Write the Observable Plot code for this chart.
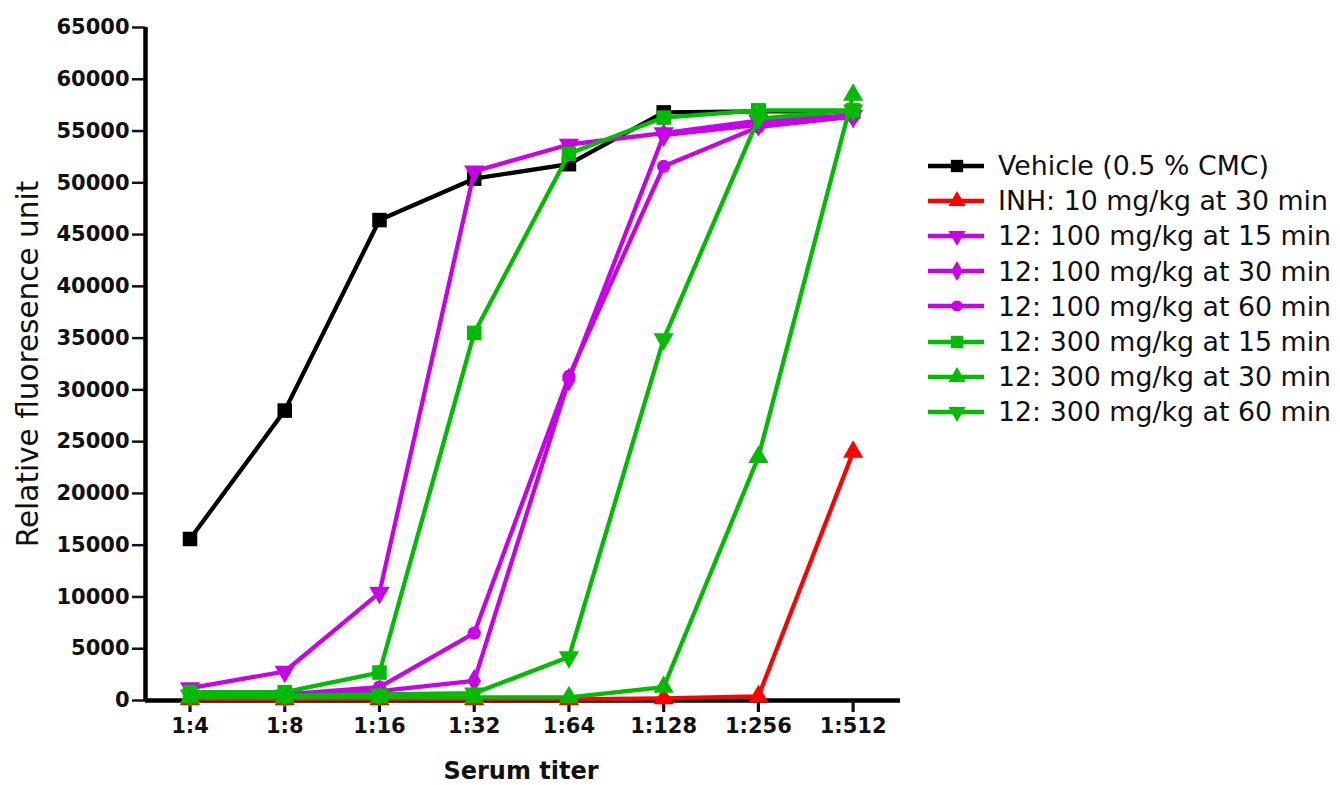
<!DOCTYPE html>
<html>
<head>
<meta charset="utf-8">
<script src="https://cdn.jsdelivr.net/npm/d3@7"></script>
<script src="https://cdn.jsdelivr.net/npm/@observablehq/plot@0.6"></script>
<style>
  body { margin: 0; background: #fff; }
  #wrap { position: relative; width: 1340px; height: 785px; overflow: hidden; font-family: "DejaVu Sans", sans-serif; color: #111; }
  #chart { position: absolute; left: 0; top: 0; }
  .ylab { position: absolute; left: 28px; top: 364px; transform: translate(-50%, -50%) rotate(-90deg); font-size: 29.5px; white-space: nowrap; }
  .xlab { position: absolute; left: 521px; top: 771px; transform: translate(-50%, -50%); font-size: 24px; font-weight: bold; white-space: nowrap; }
  #legend { position: absolute; left: 926px; top: 148px; }
  .row { height: 35.2px; display: flex; align-items: center; font-size: 26.8px; white-space: nowrap; }
  .row svg { margin-right: 12px; }
</style>
</head>
<body>
<div id="wrap">
  <div id="chart"></div>
  <div class="ylab">Relative fluoresence unit</div>
  <div class="xlab">Serum titer</div>
  <div id="legend"></div>
</div>
<script>
const titers = ["1:4", "1:8", "1:16", "1:32", "1:64", "1:128", "1:256", "1:512"];
const yTicks = [0, 5000, 10000, 15000, 20000, 25000, 30000, 35000, 40000, 45000, 50000, 55000, 60000, 65000];

const vehicle   = [15600, 28000, 46400, 50400, 51800, 56800, 56900, 56900];
const inh10_30  = [100, 100, 100, 100, 100, 200, 400, 24000];
const c100_15   = [1200, 2800, 10400, 51100, 53700, 54800, 56000, 56500];
const c100_30   = [500, 400, 900, 1900, 31000, 54600, 55600, 56400];
const c100_60   = [700, 600, 1300, 6500, 31300, 51600, 55400, 56400];
const c300_15   = [800, 800, 2700, 35500, 52800, 56300, 57000, 57000];
const c300_30   = [300, 300, 300, 300, 300, 1300, 23500, 58500];
const c300_60   = [500, 500, 600, 700, 4200, 34900, 56200, 57000];

const names = [
  "Vehicle (0.5 % CMC)",
  "INH: 10 mg/kg at 30 min",
  "12: 100 mg/kg at 15 min",
  "12: 100 mg/kg at 30 min",
  "12: 100 mg/kg at 60 min",
  "12: 300 mg/kg at 15 min",
  "12: 300 mg/kg at 30 min",
  "12: 300 mg/kg at 60 min"
];
const BLACK = "#000000", RED = "#ff0000", MAG = "#c800e8", GRN = "#00bb00";

const series = [
  {name: names[0], values: vehicle,  color: BLACK, symbol: "square",   rotate: 0,   r: 8.2},
  {name: names[1], values: inh10_30, color: RED,   symbol: "triangle", rotate: 0,   r: 7.5},
  {name: names[2], values: c100_15,  color: MAG,   symbol: "triangle", rotate: 180, r: 7.5},
  {name: names[3], values: c100_30,  color: MAG,   symbol: "diamond",  rotate: 0,   r: 7.2},
  {name: names[4], values: c100_60,  color: MAG,   symbol: "circle",   rotate: 0,   r: 6.6},
  {name: names[5], values: c300_15,  color: GRN,   symbol: "square",   rotate: 0,   r: 8.2},
  {name: names[6], values: c300_30,  color: GRN,   symbol: "triangle", rotate: 0,   r: 7.5},
  {name: names[7], values: c300_60,  color: GRN,   symbol: "triangle", rotate: 180, r: 7.5}
];

const xDomain = [-0.47, titers.length - 0.5];
const yDomain = [yTicks[0], yTicks[yTicks.length - 1]];

const marks = [];
marks.push(Plot.ruleY([yDomain[0]], {stroke: "#000", strokeWidth: 4.5}));
marks.push(Plot.ruleX([xDomain[0]], {y1: yDomain[0], y2: yDomain[1], stroke: "#000", strokeWidth: 4.5}));
marks.push(Plot.axisY({ticks: yTicks, tickFormat: d => String(d), tickSize: 13, tickPadding: 3,
  fontSize: 21, fontWeight: "bold", strokeWidth: 2.5, label: null, fill: "#111"}));
marks.push(Plot.axisX({ticks: d3.range(titers.length), tickFormat: i => titers[i], tickSize: 12, tickPadding: 6,
  fontSize: 21, fontWeight: "bold", strokeWidth: 3.2, label: null, fill: "#111"}));

for (const s of series) {
  const rows = s.values.map((v, i) => ({i, v}));
  marks.push(Plot.line(rows, {x: "i", y: "v", stroke: s.color, strokeWidth: 4.3}));
  marks.push(Plot.dot(rows, {x: "i", y: "v", symbol: s.symbol, fill: s.color, stroke: "none", r: s.r, rotate: s.rotate}));
}

const chart = Plot.plot({
  width: 900,
  height: 785,
  marginLeft: 145,
  marginRight: 0,
  marginTop: 27,
  marginBottom: 85,
  style: {fontFamily: "DejaVu Sans", background: "#fff", overflow: "visible"},
  x: {type: "linear", domain: xDomain, axis: null},
  y: {type: "linear", domain: yDomain, axis: null},
  symbol: {type: "identity"},
  marks
});
document.getElementById("chart").appendChild(chart);

const symTypes = {square: d3.symbolSquare, triangle: d3.symbolTriangle, diamond: d3.symbolDiamond, circle: d3.symbolCircle};
const legend = d3.select("#legend");
for (const s of series) {
  const row = legend.append("div").attr("class", "row");
  const svg = row.append("svg").attr("width", 60).attr("height", 30);
  svg.append("line").attr("x1", 2).attr("x2", 58).attr("y1", 15).attr("y2", 15)
    .attr("stroke", s.color).attr("stroke-width", 4.5);
  const size = Math.PI * (s.r * 0.85) ** 2;
  svg.append("path").attr("d", d3.symbol(symTypes[s.symbol], size)())
    .attr("transform", `translate(31,15) rotate(${s.rotate})`).attr("fill", s.color);
  row.append("span").text(s.name);
}
</script>
</body>
</html>
